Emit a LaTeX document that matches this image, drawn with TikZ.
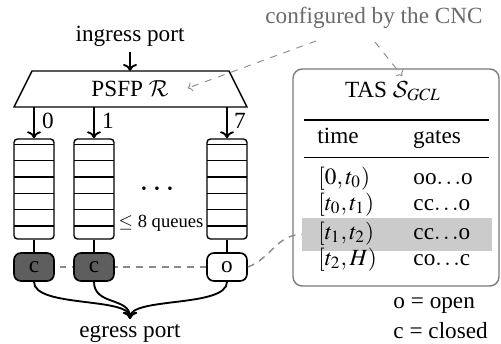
\documentclass[tikz,border=0pt]{standalone}
\usepackage{mathptmx}
\usepackage[no-math]{fontspec}
\setmainfont{Liberation Serif}
\DeclareMathAlphabet{\mathcal}{OMS}{cmsy}{m}{n}
\usetikzlibrary{arrows.meta,backgrounds}
\newcommand\pxu{0.431pt}
\newcommand\gdots{$\ldots$}
\definecolor{gatedark}{HTML}{5E5E5E}
\definecolor{rowgray}{HTML}{CBCBCB}
\definecolor{cncgray}{HTML}{6A6A6A}
\definecolor{dashgray}{HTML}{8A8A8A}
\definecolor{boxgray}{HTML}{7A7A7A}
\begin{document}
\begin{tikzpicture}[x=\pxu,y=\pxu,
  lbl/.style={inner sep=2pt, anchor=base},
  arr/.style={line width=0.8pt, -{To[length=3pt,width=6pt]}},
  queuebox/.style={draw, line width=0.6pt, rounded corners=1.5pt, minimum width=40*\pxu, minimum height=100*\pxu, inner sep=0pt},
  gatebox/.style={draw, line width=0.7pt, rounded corners=3pt, minimum width=40*\pxu, minimum height=28*\pxu, inner sep=0pt},
  gateclosed/.style={gatebox, fill=gatedark},
  gateopen/.style={gatebox, fill=white},
  gdash/.style={dashgray, line width=0.6pt, dash pattern=on 3pt off 2.5pt},
  cncline/.style={dashgray, line width=0.4pt, dash pattern=on 3pt off 3pt, -{To[length=2pt,width=4pt]}},
  celltext/.style={inner sep=0pt, anchor=base west}]
\useasboundingbox (0,0) rectangle (501,-343);

% ingress and PSFP
\node[lbl] (ingress) at (130,-42) {ingress port};
\draw[line width=0.6pt] (32,-71) -- (229,-71) -- (247,-107) -- (14,-107) -- cycle;
\node[lbl] (psfp) at (130,-96) {PSFP $\mathcal{R}$};
\coordinate (ptop) at (130,-71);
\coordinate (p0) at (34,-107);
\coordinate (p1) at (94,-107);
\coordinate (p7) at (227,-107);
\draw[arr] (ingress) -- (ptop);

% queues
\node[queuebox] (q0) at (34,-189) {};
\node[queuebox] (q1) at (94,-189) {};
\node[queuebox] (q7) at (227,-189) {};
\foreach \xx in {34,94,227}{
  \foreach \k in {0,...,5}{
    \draw[line width=0.6pt] (\xx-20,-144.4-16.3*\k) -- (\xx+20,-144.4-16.3*\k);
  }
}
\draw[arr] (p0) -- (q0.north);
\draw[arr] (p1) -- (q1.north);
\draw[arr] (p7) -- (q7.north);
\node[lbl] (l0) at (48,-128) {0};
\node[lbl] (l1) at (108,-128) {1};
\node[lbl] (l7) at (240,-128) {7};
\node[lbl] (dots) at (157,-190) {\Large$\ldots$};
\node[inner sep=0pt] (nq) at (161,-223) {\footnotesize $\leq$ 8 queues};

% gates
\node[gateclosed] (g0) at (34,-267) {c};
\node[gateclosed] (g1) at (94,-267) {c};
\node[gateopen] (g7) at (227,-267) {o};
\draw[line width=0.6pt] (q0.south) -- (g0.north);
\draw[line width=0.6pt] (q1.south) -- (g1.north);
\draw[line width=0.6pt] (q7.south) -- (g7.north);
\begin{scope}[on background layer]
\draw[gdash] (g0.center) -- (g7.center);
\end{scope}

% egress
\node[lbl] (egress) at (130,-337) {egress port};
\draw[arr] (g0.south) .. controls +(0,-26) and +(0,22) .. (egress.north);
\draw[arr] (g1.south) .. controls +(0,-24) and +(0,22) .. (egress.north);
\draw[arr] (g7.south) .. controls +(0,-26) and +(0,22) .. (egress.north);

% TAS table
\node[draw=boxgray, line width=0.6pt, rounded corners=4pt, minimum width=206*\pxu, minimum height=217*\pxu, inner sep=0pt] (tasbox) at (396,-177.5) {};
\node[fill=rowgray, minimum width=190*\pxu, minimum height=33*\pxu, inner sep=0pt] (hl) at (397,-234.5) {};
\node[lbl] (tas) at (393,-97) {TAS $\mathcal{S}_{GCL}$};
\draw[line width=0.8pt] (304,-120) -- (489,-120);
\draw[line width=0.4pt] (304,-157) -- (489,-157);
\node[lbl] (htime) at (338,-143) {time};
\node[lbl] (hgates) at (437,-143) {gates};
\node[celltext] (r0a) at (318,-184) {$[0,t_0)$};
\node[celltext] (r0b) at (413,-184) {oo\gdots o};
\node[celltext] (r1a) at (318,-210) {$[t_0,t_1)$};
\node[celltext] (r1b) at (413,-210) {cc\gdots o};
\node[celltext] (r2a) at (318,-239) {$[t_1,t_2)$};
\node[celltext] (r2b) at (413,-239) {cc\gdots o};
\node[celltext] (r3a) at (318,-265) {$[t_2,H)$};
\node[celltext] (r3b) at (413,-265) {co\gdots c};

\draw[gdash] (g7.east) to[out=20,in=180] (hl.west);

% legend
\node[celltext] (lego) at (393,-308) {o = open};
\node[celltext] (legc) at (393,-338) {c = closed};

% CNC
\node[inner sep=0pt, anchor=base east, text=cncgray] (cnc) at (483,-24) {configured by the CNC};
\coordinate (cncA) at (316,-41);
\coordinate (cncB) at (375,-42);
\draw[cncline] (cncA) -- ([xshift=6]psfp.east);
\draw[cncline] (cncB) -- ([xshift=4]tas.north);
\end{tikzpicture}
\end{document}
